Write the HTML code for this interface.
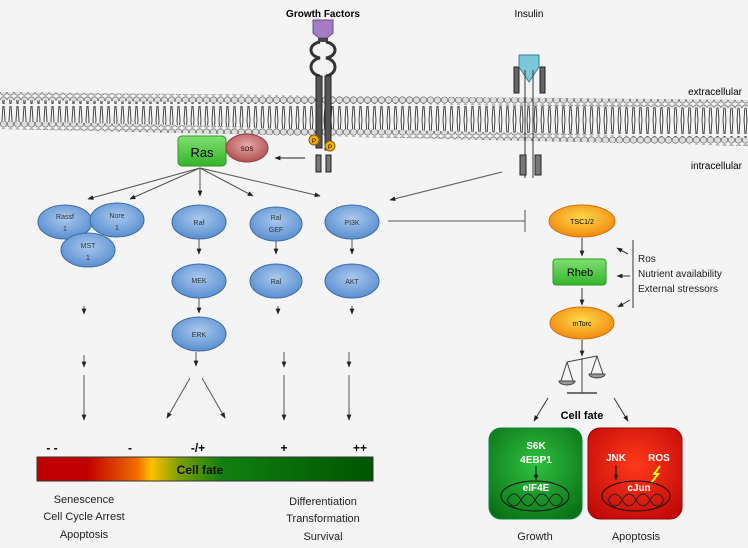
<!DOCTYPE html>
<html><head><meta charset="utf-8"><style>
html,body{margin:0;padding:0;background:#f4f4f4}
svg{display:block}
text{font-family:"Liberation Sans",sans-serif}
</style></head><body>
<svg width="748" height="548" viewBox="0 0 748 548" xmlns="http://www.w3.org/2000/svg">
<defs>
<marker id="a" viewBox="0 0 10 10" refX="9" refY="5" markerWidth="6" markerHeight="6" orient="auto"><path d="M0,1 L10,5 L0,9z" fill="#222"/></marker>
<pattern id="heads" width="7" height="8" patternUnits="userSpaceOnUse"><circle cx="3.5" cy="4" r="3.2" fill="#ddd" stroke="#777" stroke-width="0.8"/></pattern>
<pattern id="tails" width="7" height="30" patternUnits="userSpaceOnUse"><path d="M2,0 L3,14 M5,0 L4,14 M2,30 L3,16 M5,30 L4,16" stroke="#333" stroke-width="0.9"/></pattern>
<radialGradient id="blue" cx="50%" cy="40%" r="60%"><stop offset="0" stop-color="#a9c8ee"/><stop offset="1" stop-color="#5a8fd0"/></radialGradient>
<radialGradient id="org" cx="50%" cy="40%" r="60%"><stop offset="0" stop-color="#ffd94a"/><stop offset="1" stop-color="#f08a10"/></radialGradient>
<linearGradient id="grn" x1="0" y1="0" x2="0" y2="1"><stop offset="0" stop-color="#7fe070"/><stop offset="1" stop-color="#34b42c"/></linearGradient>
<radialGradient id="gbox" cx="50%" cy="40%" r="70%"><stop offset="0" stop-color="#30c040"/><stop offset="1" stop-color="#0a7015"/></radialGradient>
<radialGradient id="rbox" cx="50%" cy="40%" r="70%"><stop offset="0" stop-color="#ff3a1a"/><stop offset="1" stop-color="#c00808"/></radialGradient>
<radialGradient id="sos" cx="50%" cy="40%" r="60%"><stop offset="0" stop-color="#e8a8a8"/><stop offset="1" stop-color="#b05050"/></radialGradient>
<linearGradient id="fate" x1="0" y1="0" x2="1" y2="0"><stop offset="0" stop-color="#c00000"/><stop offset="0.15" stop-color="#c00000"/><stop offset="0.3" stop-color="#f07000"/><stop offset="0.34" stop-color="#ffc000"/><stop offset="0.42" stop-color="#80a000"/><stop offset="0.55" stop-color="#108010"/><stop offset="1" stop-color="#005500"/></linearGradient>
</defs>
<!-- membrane -->
<polygon points="0,99 748,107 748,139 0,122" fill="url(#tails)"/>
<polygon points="0,92 748,100 748,108 0,100" fill="url(#heads)"/>
<polygon points="0,121 748,138 748,146 0,129" fill="url(#heads)"/>

<text x="323" y="17" font-size="10" font-weight="bold" text-anchor="middle">Growth Factors</text>
<text x="529" y="17" font-size="10" text-anchor="middle">Insulin</text>
<text x="742" y="95" font-size="10" text-anchor="end">extracellular</text>
<text x="742" y="169" font-size="10" text-anchor="end">intracellular</text>

<!-- growth factor receptor -->
<path d="M313,20 L333,20 L333,33 L327,38 L319,38 L313,33z" fill="#a37cc4" stroke="#6a4a90"/>
<rect x="318" y="38" width="10" height="4" fill="#444"/>
<path d="M320,42 C308,44 308,56 320,58 C308,60 308,74 320,76 M326,42 C338,44 338,56 326,58 C338,60 338,74 326,76" fill="none" stroke="#333" stroke-width="3"/>
<rect x="316" y="76" width="6" height="72" fill="#555" stroke="#222"/>
<rect x="325" y="76" width="6" height="74" fill="#555" stroke="#222"/>
<rect x="316" y="155" width="5" height="17" fill="#777" stroke="#222"/>
<rect x="326" y="155" width="5" height="17" fill="#777" stroke="#222"/>
<circle cx="314" cy="140" r="5" fill="#f0b000" stroke="#806000"/><text x="314" y="143" font-size="6" text-anchor="middle">P</text>
<circle cx="330" cy="146" r="5" fill="#f0b000" stroke="#806000"/><text x="330" y="149" font-size="6" text-anchor="middle">P</text>

<!-- insulin receptor -->
<rect x="514" y="67" width="5" height="26" fill="#666" stroke="#222"/>
<rect x="540" y="67" width="5" height="26" fill="#666" stroke="#222"/>
<path d="M519,55 L539,55 L539,67 L529,82 L519,67z" fill="#7cc8da" stroke="#3a7f90"/>
<path d="M525,70 V178 M533,70 V178" stroke="#333" stroke-width="1"/>
<rect x="520" y="155" width="6" height="20" fill="#777" stroke="#222"/>
<rect x="535" y="155" width="6" height="20" fill="#777" stroke="#222"/>

<!-- Ras / SOS -->
<rect x="178" y="136" width="48" height="30" rx="4" fill="url(#grn)" stroke="#2a9a20"/>
<text x="202" y="157" font-size="13" text-anchor="middle">Ras</text>
<ellipse cx="247" cy="148" rx="21" ry="14" fill="url(#sos)" stroke="#904040"/>
<text x="247" y="151" font-size="6" text-anchor="middle">SOS</text>
<line x1="305" y1="158" x2="275" y2="158" stroke="#222" marker-end="url(#a)"/>

<g stroke="#555" stroke-width="1" fill="none" marker-end="url(#a)">
<line x1="200" y1="168" x2="88" y2="199"/>
<line x1="200" y1="168" x2="130" y2="199"/>
<line x1="200" y1="168" x2="200" y2="196"/>
<line x1="200" y1="168" x2="253" y2="196"/>
<line x1="200" y1="168" x2="320" y2="196"/>
<line x1="502" y1="172" x2="390" y2="200"/>
<line x1="199" y1="239" x2="199" y2="254"/>
<line x1="199" y1="298" x2="199" y2="313"/>
<line x1="276" y1="239" x2="276" y2="254"/>
<line x1="352" y1="239" x2="352" y2="254"/>
<line x1="84" y1="306" x2="84" y2="314"/>
<line x1="84" y1="355" x2="84" y2="367"/>
<line x1="84" y1="375" x2="84" y2="420"/>
<line x1="196" y1="352" x2="196" y2="366"/>
<line x1="190" y1="378" x2="167" y2="418"/>
<line x1="202" y1="378" x2="225" y2="418"/>
<line x1="278" y1="306" x2="278" y2="314"/>
<line x1="284" y1="352" x2="284" y2="367"/>
<line x1="284" y1="375" x2="284" y2="420"/>
<line x1="352" y1="306" x2="352" y2="314"/>
<line x1="349" y1="352" x2="349" y2="367"/>
<line x1="349" y1="375" x2="349" y2="420"/>
</g>
<path d="M388,221 H525 M525,210 V232" stroke="#555" fill="none"/>

<g fill="url(#blue)" stroke="#3d6aa8" stroke-width="1">
<ellipse cx="65" cy="222" rx="27" ry="17"/>
<ellipse cx="117" cy="220" rx="27" ry="17"/>
<ellipse cx="88" cy="250" rx="27" ry="17"/>
<ellipse cx="199" cy="222" rx="27" ry="17"/>
<ellipse cx="199" cy="281" rx="27" ry="17"/>
<ellipse cx="199" cy="334" rx="27" ry="17"/>
<ellipse cx="276" cy="224" rx="26" ry="17"/>
<ellipse cx="276" cy="281" rx="26" ry="17"/>
<ellipse cx="352" cy="222" rx="27" ry="17"/>
<ellipse cx="352" cy="281" rx="27" ry="17"/>
</g>
<g font-size="7" text-anchor="middle" fill="#333">
<text x="65" y="219">Rassf</text><text x="65" y="231">1</text>
<text x="117" y="218">Nore</text><text x="117" y="230">1</text>
<text x="88" y="248">MST</text><text x="88" y="260">1</text>
<text x="199" y="225">Raf</text>
<text x="199" y="283">MEK</text>
<text x="199" y="337">ERK</text>
<text x="276" y="220">Ral</text><text x="276" y="232">GEF</text>
<text x="276" y="284">Ral</text>
<text x="352" y="225">PI3K</text>
<text x="352" y="284">AKT</text>
</g>

<g font-size="12" font-weight="bold" text-anchor="middle">
<text x="52" y="452">- -</text><text x="130" y="452">-</text><text x="198" y="452">-/+</text><text x="284" y="452">+</text><text x="360" y="452">++</text>
</g>
<rect x="37" y="457" width="336" height="24" fill="url(#fate)" stroke="#333"/>
<text x="200" y="474" font-size="12" font-weight="bold" text-anchor="middle" fill="#111">Cell fate</text>
<g font-size="11" text-anchor="middle" fill="#222">
<text x="84" y="503">Senescence</text><text x="84" y="520">Cell Cycle Arrest</text><text x="84" y="538">Apoptosis</text>
<text x="323" y="505">Differentiation</text><text x="323" y="522">Transformation</text><text x="323" y="540">Survival</text>
</g>

<ellipse cx="582" cy="221" rx="33" ry="16" fill="url(#org)" stroke="#d07010"/>
<text x="582" y="224" font-size="7" text-anchor="middle">TSC1/2</text>
<rect x="553" y="259" width="53" height="26" rx="3" fill="url(#grn)" stroke="#2a9a20"/>
<text x="580" y="276" font-size="11" text-anchor="middle">Rheb</text>
<ellipse cx="582" cy="323" rx="32" ry="16" fill="url(#org)" stroke="#d07010"/>
<text x="582" y="326" font-size="7" text-anchor="middle">mTorc</text>
<g stroke="#333" fill="none" marker-end="url(#a)">
<line x1="582" y1="238" x2="582" y2="256"/>
<line x1="582" y1="288" x2="582" y2="305"/>
<line x1="582" y1="340" x2="582" y2="356"/>
<line x1="628" y1="254" x2="617" y2="248"/>
<line x1="630" y1="276" x2="617" y2="276"/>
<line x1="630" y1="300" x2="618" y2="307"/>
<line x1="548" y1="398" x2="534" y2="421"/>
<line x1="614" y1="398" x2="628" y2="421"/>
</g>
<line x1="633" y1="240" x2="633" y2="308" stroke="#333"/>
<g font-size="10" fill="#222"><text x="638" y="262">Ros</text><text x="638" y="277">Nutrient availability</text><text x="638" y="292">External stressors</text></g>
<g stroke="#444" fill="none">
<line x1="582" y1="358" x2="582" y2="393"/><line x1="567" y1="393" x2="597" y2="393" stroke-width="1.5"/>
<line x1="567" y1="362" x2="597" y2="356"/>
<path d="M567,362 L561,381 M567,362 L573,381 M597,356 L591,374 M597,356 L603,374"/>
</g>
<path d="M559,381 A8,4 0 0 0 575,381z" fill="#999" stroke="#444"/>
<path d="M589,374 A8,4 0 0 0 605,374z" fill="#999" stroke="#444"/>
<text x="582" y="419" font-size="11" font-weight="bold" text-anchor="middle">Cell fate</text>

<rect x="489" y="428" width="93" height="91" rx="12" fill="url(#gbox)" stroke="#084"/>
<rect x="588" y="428" width="94" height="91" rx="12" fill="url(#rbox)" stroke="#900"/>
<g font-size="10" font-weight="bold" fill="#fff" text-anchor="middle">
<text x="536" y="449">S6K</text><text x="536" y="463">4EBP1</text><text x="536" y="491">eIF4E</text>
<text x="616" y="461">JNK</text><text x="659" y="461">ROS</text><text x="639" y="491">cJun</text>
</g>
<line x1="536" y1="466" x2="536" y2="480" stroke="#111" marker-end="url(#a)"/>
<line x1="616" y1="465" x2="616" y2="480" stroke="#111" marker-end="url(#a)"/>
<path d="M660,466 L654,474 L658,474 L651,483" stroke="#ff0" stroke-width="2" fill="none"/>
<ellipse cx="535" cy="496" rx="34" ry="15" fill="none" stroke="#111"/>
<ellipse cx="636" cy="496" rx="34" ry="15" fill="none" stroke="#111"/>
<g stroke="#222" fill="none" stroke-width="1">
<path d="M507,500 q7,-12 14,0 t14,0 t14,0 t14,0 M507,500 q7,12 14,0 t14,0 t14,0 t14,0"/>
<path d="M608,500 q7,-12 14,0 t14,0 t14,0 t14,0 M608,500 q7,12 14,0 t14,0 t14,0 t14,0"/>
</g>
<g font-size="11" text-anchor="middle" fill="#222"><text x="535" y="540">Growth</text><text x="636" y="540">Apoptosis</text></g>
</svg>
</body></html>
